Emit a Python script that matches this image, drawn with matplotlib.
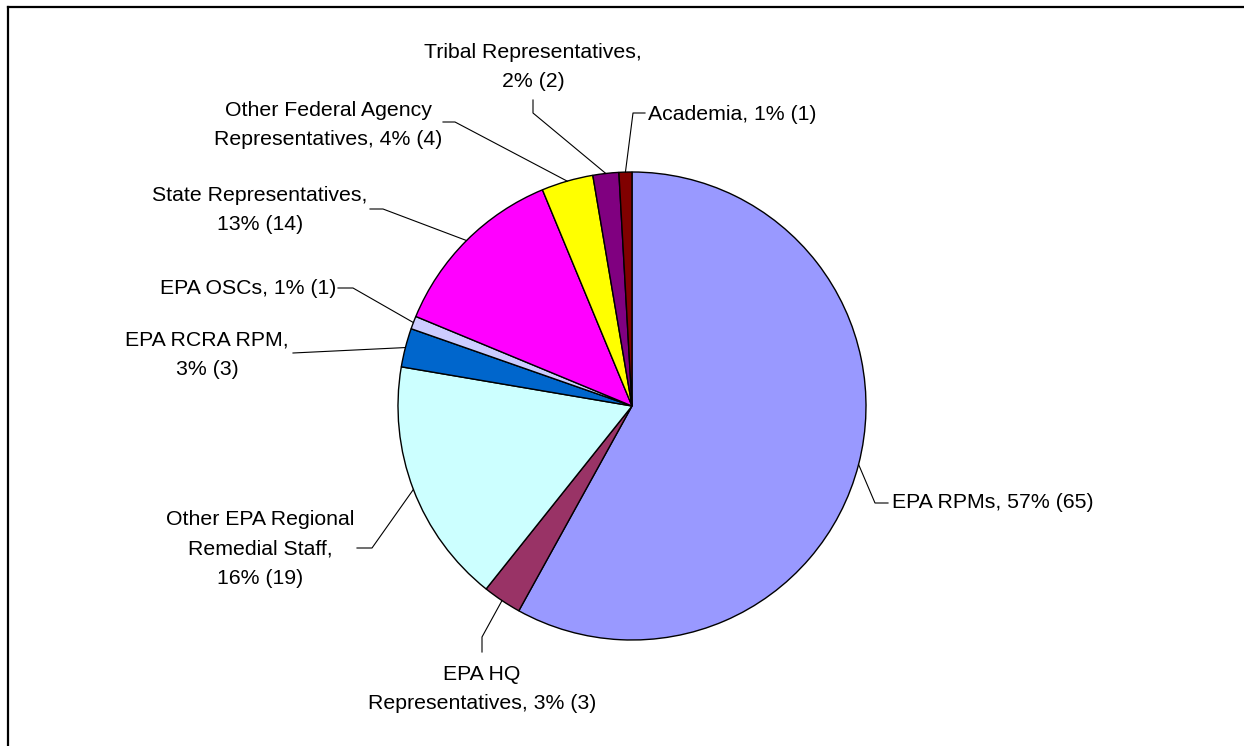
import matplotlib
matplotlib.use("Agg")
import matplotlib.pyplot as plt
import numpy as np

# survey respondents by affiliation (pie goes clockwise from 12 o'clock)
categories = [
    "EPA RPMs",
    "EPA HQ\nRepresentatives",
    "Other EPA Regional\nRemedial Staff",
    "EPA RCRA RPM",
    "EPA OSCs",
    "State Representatives",
    "Other Federal Agency\nRepresentatives",
    "Tribal Representatives",
    "Academia",
]
counts = [65, 3, 19, 3, 1, 14, 4, 2, 1]
percents = [57, 3, 16, 3, 1, 13, 4, 2, 1]
colors = ["#9999FF", "#993366", "#CCFFFF", "#0066CC", "#CCCCFF",
          "#FF00FF", "#FFFF00", "#800080", "#800000"]

label_texts = [
    "EPA RPMs, 57% (65)",
    "EPA HQ\nRepresentatives, 3% (3)",
    "Other EPA Regional\nRemedial Staff,\n16% (19)",
    "EPA RCRA RPM,\n3% (3)",
    "EPA OSCs, 1% (1)",
    "State Representatives,\n13% (14)",
    "Other Federal Agency\nRepresentatives, 4% (4)",
    "Tribal Representatives,\n2% (2)",
    "Academia, 1% (1)",
]

# label placement in pixel space: text anchor, alignment, leader elbow + end
label_pos = [
    ((892, 503), "left", [(875, 503), (888, 503)]),
    ((482, 689), "center", [(482, 637), (482, 652)]),
    ((260, 549), "center", [(372, 548), (357, 548)]),
    ((207, 355), "center", [(293, 353), (293, 353)]),
    ((336, 289), "right", [(353, 288), (338, 288)]),
    ((260, 210), "center", [(383, 209), (370, 209)]),
    ((328, 125), "center", [(455, 122), (443, 122)]),
    ((533, 67), "center", [(533, 113), (533, 100)]),
    ((648, 114), "left", [(633, 113), (645, 113)]),
]

W, H = 1244, 746
plt.rcParams["font.family"] = ["Liberation Sans", "DejaVu Sans"]

fig = plt.figure(figsize=(W / 100, H / 100), dpi=100)
ax = fig.add_axes([0, 0, 1, 1])

cx, cy, r = 632, 406, 234
wedges, _ = ax.pie(counts, colors=colors, startangle=-90, counterclock=True,
                   center=(cx, cy), radius=r,
                   wedgeprops=dict(edgecolor="black", linewidth=1.0))

for w, txt, (pos, ha, pts) in zip(wedges, label_texts, label_pos):
    mid = np.deg2rad((w.theta1 + w.theta2) / 2)
    sx, sy = cx + r * np.cos(mid), cy + r * np.sin(mid)
    xs = [sx] + [p[0] for p in pts]
    ys = [sy] + [p[1] for p in pts]
    ax.plot(xs, ys, color="black", lw=0.8)
    ax.text(pos[0], pos[1], txt, ha=ha, va="center", multialignment="center",
            fontsize=15.3, linespacing=1.68, color="black")

# outer frame (left and top edges visible)
ax.plot([8, 8], [H + 5, 7], color="black", lw=1.6)
ax.plot([8, W + 5], [7, 7], color="black", lw=1.6)

ax.set_xlim(0, W)
ax.set_ylim(H, 0)
ax.set_aspect("equal")
ax.axis("off")

fig.savefig("out.png", dpi=100)
